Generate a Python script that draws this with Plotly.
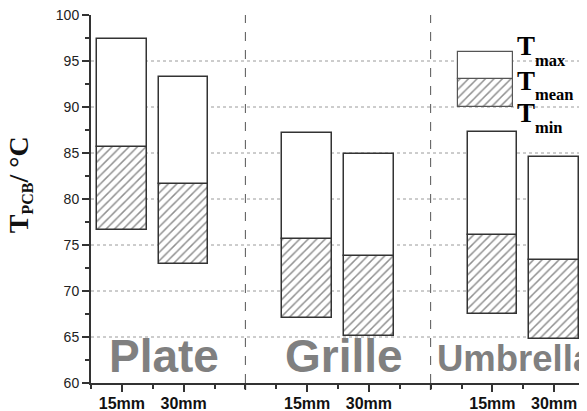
import plotly.graph_objects as go

# ---- data ----
groups = ["Plate", "Grille", "Umbrella"]
spacings = ["15mm", "30mm"]
t_max = [97.4, 93.3, 87.2, 84.9, 87.3, 84.6]
t_mean = [85.7, 81.6, 75.7, 73.8, 76.1, 73.4]
t_min = [76.6, 72.9, 67.1, 65.1, 67.5, 64.8]
y_ticks = [60, 65, 70, 75, 80, 85, 90, 95, 100]
grid_vals = [65, 70, 75, 80, 85, 90, 95]
legend_min = [90]
legend_mean = [93]
legend_max = [96]
legend_names = ["max", "mean", "min"]

# ---- positions derived from categories ----
xs = [6 * g + 1 + 2 * s for g in range(len(groups)) for s in range(len(spacings))]
sep_x = [6 * g - 1 for g in range(1, len(groups))]
tick_x = xs
tick_text = [spacings[i % 2] for i in range(len(xs))]

edge = "#333333"
hatch = dict(shape="/", fgcolor="#222222", bgcolor="white", size=6, solidity=0.25)

fig = go.Figure()
fig.add_trace(go.Bar(
    x=xs, y=[m - n for m, n in zip(t_mean, t_min)], base=t_min, width=1.6,
    marker=dict(color="white", line=dict(color=edge, width=1.5), pattern=hatch),
    showlegend=False, hoverinfo="skip"))
fig.add_trace(go.Bar(
    x=xs, y=[a - m for a, m in zip(t_max, t_mean)], base=t_mean, width=1.6,
    marker=dict(color="white", line=dict(color=edge, width=1.5)),
    showlegend=False, hoverinfo="skip"))
# legend key
key_x = [12.78]
fig.add_trace(go.Bar(
    x=key_x, y=[m - n for m, n in zip(legend_mean, legend_min)], base=legend_min, width=1.8,
    marker=dict(color="white", line=dict(color="#555", width=1.2), pattern=hatch),
    showlegend=False, hoverinfo="skip"))
fig.add_trace(go.Bar(
    x=key_x, y=[a - m for a, m in zip(legend_max, legend_mean)], base=legend_mean, width=1.8,
    marker=dict(color="white", line=dict(color="#555", width=1.2)),
    showlegend=False, hoverinfo="skip"))

shapes = []
for v in grid_vals:
    shapes.append(dict(type="line", xref="paper", x0=0, x1=1, yref="y", y0=v, y1=v,
                       line=dict(color="#9a9a9a", width=1, dash="dot"), layer="below"))
for sx in sep_x:
    shapes.append(dict(type="line", xref="x", x0=sx, x1=sx, yref="paper", y0=0, y1=1,
                       line=dict(color="#555", width=1, dash="dash"), layer="below"))
    shapes.append(dict(type="line", xref="x", x0=sx, x1=sx, yref="paper", y0=-7 / 368, y1=0,
                       line=dict(color=edge, width=1.5)))

annotations = []
# y title
annotations.append(dict(
    text="<b>T<sub><span style='font-size:16px'>PCB</span></sub>/ °C</b>", xref="paper", yref="paper",
    x=-0.144, y=0.54, xanchor="center", yanchor="middle", textangle=-90, showarrow=False,
    font=dict(family="Liberation Serif", size=28, color="#111")))
# group labels (y in paper units, bottom-anchored near the x axis)
grp_sizes = [46, 46, 36.5]
grp_x = [2.38, 8.18, 11.14]
grp_y = [-0.004, -0.004, 0.005]
grp_anchor = ["center", "center", "left"]
for name, sz, gx, gy, an in zip(groups, grp_sizes, grp_x, grp_y, grp_anchor):
    annotations.append(dict(
        text="<b>%s</b>" % name, xref="x", yref="paper", x=gx, y=gy,
        xanchor=an, yanchor="bottom", showarrow=False,
        font=dict(family="Arial, Liberation Sans", size=sz, color="#808080")))
# legend labels: big "T" plus lowered subscript
leg_t_y = [96.63, 92.83, 89.40]
leg_s_y = [95.06, 91.37, 87.78]
leg_x0 = (515 - 91) / 494
leg_x1 = (533 - 91) / 494
for nm, ty, sy in zip(legend_names, leg_t_y, leg_s_y):
    annotations.append(dict(
        text="<b>T</b>", xref="paper", yref="y", x=leg_x0, y=ty,
        xanchor="left", yanchor="middle", showarrow=False,
        font=dict(family="Liberation Serif", size=27, color="#000")))
    annotations.append(dict(
        text="<b>%s</b>" % nm, xref="paper", yref="y", x=leg_x1, y=sy,
        xanchor="left", yanchor="middle", showarrow=False,
        font=dict(family="Liberation Serif", size=16.5, color="#000")))

# page body has an 8px default margin: figure is sized/offset to compensate
fig.update_layout(
    width=579, height=403,
    margin=dict(l=83, r=2, t=7, b=28, autoexpand=False),
    paper_bgcolor="white", plot_bgcolor="white",
    barmode="overlay", bargap=0,
    shapes=shapes, annotations=annotations,
    xaxis=dict(range=[0, 16], tickvals=tick_x, ticktext=tick_text, automargin=False,
               ticklabeloverflow="allow", ticklabelstandoff=-2,
               ticks="outside", ticklen=7, tickwidth=1.5, tickcolor=edge,
               showline=True, linewidth=2, linecolor=edge, showgrid=False, zeroline=False,
               tickfont=dict(family="Arial, Liberation Sans", size=16, color="#111", weight="bold"),
               minor=dict(ticks="outside", ticklen=4, tickwidth=1.5, tickcolor=edge,
                          tick0=0, dtick=1, showgrid=False)),
    yaxis=dict(range=[60, 100], tickvals=y_ticks, automargin=False,
               ticklabeloverflow="allow",
               ticks="outside", ticklen=7, tickwidth=1.5, tickcolor=edge,
               showline=True, linewidth=2, linecolor=edge, showgrid=False, zeroline=False,
               tickfont=dict(family="Arial, Liberation Sans", size=14, color="#222"),
               minor=dict(ticks="outside", ticklen=4, tickwidth=1.5, tickcolor=edge,
                          tick0=60, dtick=2.5, showgrid=False)),
)

fig.write_html("out.html")
